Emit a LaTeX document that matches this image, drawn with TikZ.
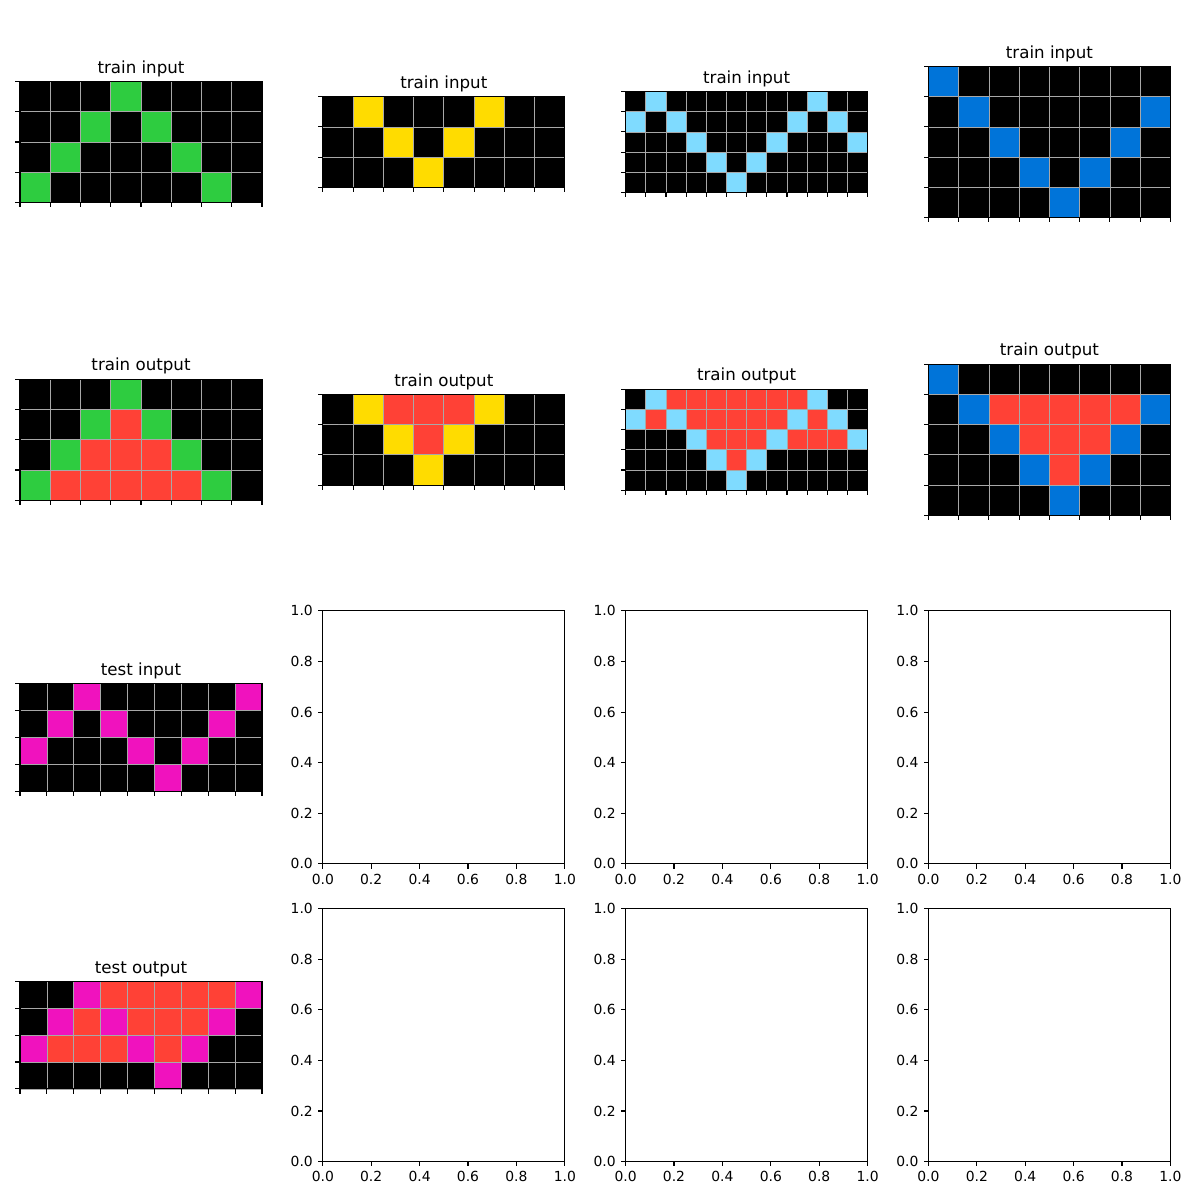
\documentclass[tikz,border=0pt]{standalone}
\usepackage{fontspec}
\setmainfont{DejaVu Sans}
\usepackage{tikz}
\usetikzlibrary{positioning}
\definecolor{arc0}{HTML}{000000}
\definecolor{arc1}{HTML}{0074D9}
\definecolor{arc2}{HTML}{FF4136}
\definecolor{arc3}{HTML}{2ECC40}
\definecolor{arc4}{HTML}{FFDC00}
\definecolor{arc6}{HTML}{F012BE}
\definecolor{arc8}{HTML}{7FDBFF}
\definecolor{gridgrey}{HTML}{A8A8A8}

% one coloured task grid: name, centre x, centre y, cols, rows, title, cells
\newcommand{\arcgrid}[7]{%
  \pgfmathsetmacro{\gcell}{242/#4}
  \pgfmathsetmacro{\gtop}{#3-#5*\gcell/2}
  \pgfmathsetmacro{\gtick}{4.86/\gcell}
  \begin{scope}[shift={(#2-121,\gtop)},scale=\gcell]
    \foreach \rowcells [count=\rw from 0] in {#7} {
      \foreach \v [count=\cl from 0] in \rowcells {
        \fill[fill=arc\v] (\cl,\rw) rectangle ++(1,1);
      }
    }
    \foreach \i in {0,...,#5} \draw[gridln] (0,\i) -- (#4,\i);
    \foreach \i in {0,...,#4} \draw[gridln] (\i,0) -- (\i,#5);
    \draw[spine] (0,0) rectangle (#4,#5);
    \foreach \i in {0,...,#5} \draw[tickln] (0,\i) -- ++(-\gtick,0);
    \foreach \i in {0,...,#4} \draw[tickln] (\i,#5) -- ++(0,\gtick);
  \end{scope}
  \node[ttl] (#1) at (#2,\gtop-8.3) {#6};
}

% one blank panel with 0..1 axes: name, centre x, centre y
\newcommand{\blankaxes}[3]{%
  \begin{scope}[shift={(#2-121,#3+126.5)}]
    \draw[spine] (0,0) rectangle (242,-253);
    \foreach \t [count=\k from 0] in {0.0,0.2,0.4,0.6,0.8,1.0} {
      \draw[tickln] (\k*48.4,0) -- ++(0,4.86);
      \node[lbl,anchor=north] (#1x\k) at (\k*48.4,9.72) {\t};
      \draw[tickln] (0,-\k*50.6) -- ++(-4.86,0);
      \node[lbl,anchor=east] (#1y\k) at (-9.72,-\k*50.6) {\t};
    }
  \end{scope}
}

\begin{document}
\begin{tikzpicture}[x=0.72pt,y=-0.72pt,
  ttl/.style={font=\fontsize{12}{14}\selectfont,anchor=base,inner sep=0pt},
  lbl/.style={font=\fontsize{10}{12}\selectfont,inner sep=0pt},
  spine/.style={draw=black,line width=0.8pt},
  gridln/.style={draw=gridgrey,line width=0.5pt},
  tickln/.style={draw=black,line width=0.8pt}]
  \useasboundingbox[fill=white] (0,0) rectangle (1200,1200);

  % train inputs
  \arcgrid{inA}{141}{142}{8}{4}{train input}{{0,0,0,3,0,0,0,0},{0,0,3,0,3,0,0,0},{0,3,0,0,0,3,0,0},{3,0,0,0,0,0,3,0}}
  \arcgrid{inB}{443.8}{142}{8}{3}{train input}{{0,4,0,0,0,4,0,0},{0,0,4,0,4,0,0,0},{0,0,0,4,0,0,0,0}}
  \arcgrid{inC}{746.6}{142}{12}{5}{train input}{{0,8,0,0,0,0,0,0,0,8,0,0},{8,0,8,0,0,0,0,0,8,0,8,0},{0,0,0,8,0,0,0,8,0,0,0,8},{0,0,0,0,8,0,8,0,0,0,0,0},{0,0,0,0,0,8,0,0,0,0,0,0}}
  \arcgrid{inD}{1049.4}{142}{8}{5}{train input}{{1,0,0,0,0,0,0,0},{0,1,0,0,0,0,0,1},{0,0,1,0,0,0,1,0},{0,0,0,1,0,1,0,0},{0,0,0,0,1,0,0,0}}

  % train outputs
  \arcgrid{outA}{141}{439.7}{8}{4}{train output}{{0,0,0,3,0,0,0,0},{0,0,3,2,3,0,0,0},{0,3,2,2,2,3,0,0},{3,2,2,2,2,2,3,0}}
  \arcgrid{outB}{443.8}{439.7}{8}{3}{train output}{{0,4,2,2,2,4,0,0},{0,0,4,2,4,0,0,0},{0,0,0,4,0,0,0,0}}
  \arcgrid{outC}{746.6}{439.7}{12}{5}{train output}{{0,8,2,2,2,2,2,2,2,8,0,0},{8,2,8,2,2,2,2,2,8,2,8,0},{0,0,0,8,2,2,2,8,2,2,2,8},{0,0,0,0,8,2,8,0,0,0,0,0},{0,0,0,0,0,8,0,0,0,0,0,0}}
  \arcgrid{outD}{1049.4}{439.7}{8}{5}{train output}{{1,0,0,0,0,0,0,0},{0,1,2,2,2,2,2,1},{0,0,1,2,2,2,1,0},{0,0,0,1,2,1,0,0},{0,0,0,0,1,0,0,0}}

  % test pair
  \arcgrid{testin}{141}{737.4}{9}{4}{test input}{{0,0,6,0,0,0,0,0,6},{0,6,0,6,0,0,0,6,0},{6,0,0,0,6,0,6,0,0},{0,0,0,0,0,6,0,0,0}}
  \arcgrid{testout}{141}{1035.1}{9}{4}{test output}{{0,0,6,2,2,2,2,2,6},{0,6,2,6,2,2,2,6,0},{6,2,2,2,6,2,6,0,0},{0,0,0,0,0,6,0,0,0}}

  % unused panels
  \blankaxes{eB}{443.8}{737.4}
  \blankaxes{eC}{746.6}{737.4}
  \blankaxes{eD}{1049.4}{737.4}
  \blankaxes{fB}{443.8}{1035.1}
  \blankaxes{fC}{746.6}{1035.1}
  \blankaxes{fD}{1049.4}{1035.1}
\end{tikzpicture}
\end{document}
